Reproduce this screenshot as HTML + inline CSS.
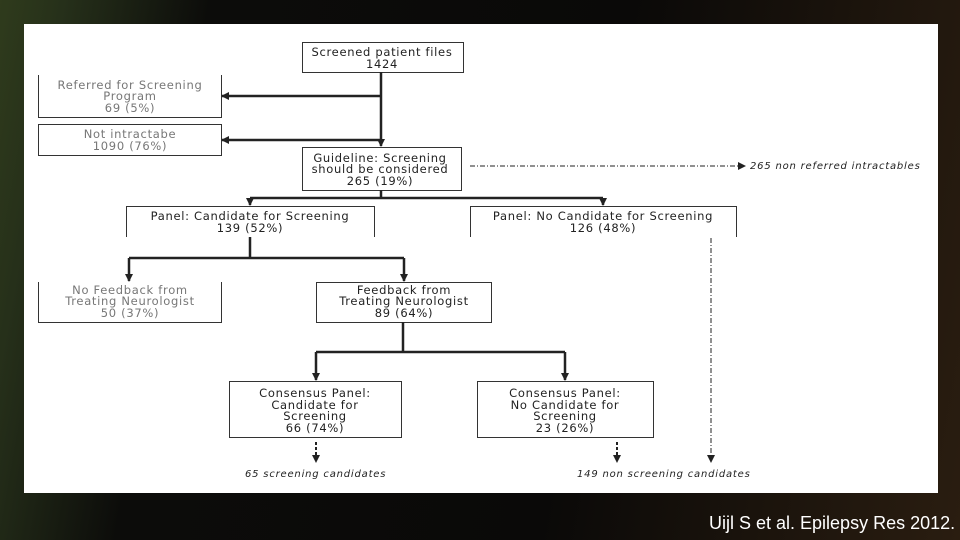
<!DOCTYPE html>
<html><head><style>
html,body{margin:0;padding:0;width:960px;height:540px;overflow:hidden}
body{background:linear-gradient(100deg,#2f3b1c 0%,#26301a 6%,#0c0c0a 20%,#0a0908 60%,#2a1d10 100%);position:relative}
.cite{position:absolute;left:709px;top:513px;color:#fff;font:18px "Liberation Sans",sans-serif;white-space:nowrap}
svg{position:absolute;left:0;top:0}
text{font-family:"DejaVu Sans","Liberation Sans",sans-serif;font-size:11.5px;letter-spacing:0.7px;fill:#222;text-anchor:middle}
.g{fill:#777}
.i{font-style:italic;text-anchor:start;font-size:10px;letter-spacing:0.8px}
</style></head><body>
<svg width="960" height="540">
<defs><marker id="a" markerWidth="8" markerHeight="8" refX="7" refY="4" orient="auto" markerUnits="userSpaceOnUse"><path d="M0,0L8,4L0,8z" fill="#222"/></marker></defs>
<rect x="24" y="24" width="914" height="469" fill="#fff"/>
<g fill="none" stroke="#333" stroke-width="1">
<rect x="302.5" y="42.5" width="161" height="30"/>
<path d="M38.5,75V117.5H221.5V75"/>
<rect x="38.5" y="124.5" width="183" height="31"/>
<rect x="302.5" y="147.5" width="159" height="43"/>
<path d="M126.5,237V206.5H374.5V237"/>
<path d="M470.5,237V206.5H736.5V237"/>
<path d="M38.5,282V322.5H221.5V282"/>
<rect x="316.5" y="282.5" width="175" height="40"/>
<rect x="229.5" y="381.5" width="172" height="56"/>
<rect x="477.5" y="381.5" width="176" height="56"/>
</g>
<g fill="none" stroke="#222" stroke-width="2.5">
<path d="M381,72V146" marker-end="url(#a)"/>
<path d="M381,96H222" marker-end="url(#a)"/>
<path d="M381,140H222" marker-end="url(#a)"/>
<path d="M381,190V198M250,198H603"/>
<path d="M250,198V205" marker-end="url(#a)"/>
<path d="M603,198V205" marker-end="url(#a)"/>
<path d="M250,237V258M129,258H404"/>
<path d="M129,258V281" marker-end="url(#a)"/>
<path d="M404,258V281" marker-end="url(#a)"/>
<path d="M403,322V352M316,352H565"/>
<path d="M316,352V380" marker-end="url(#a)"/>
<path d="M565,352V380" marker-end="url(#a)"/>
</g>
<g fill="none" stroke="#222" stroke-width="1.5">
<path d="M316,442V462" stroke-dasharray="3,2" stroke-width="2" marker-end="url(#a)"/>
<path d="M617,442V462" stroke-dasharray="3,2" stroke-width="2" marker-end="url(#a)"/>
<path d="M711,238V462" stroke-dasharray="5,2,1,2" stroke-width="1" marker-end="url(#a)"/>
<path d="M470,166H745" stroke-dasharray="5,2,1,2" stroke-width="1" marker-end="url(#a)"/>
</g>
<text x="382" y="56">Screened patient files</text><text x="382" y="68">1424</text>
<text class="g" x="130" y="89">Referred for Screening</text><text class="g" x="130" y="100">Program</text><text class="g" x="130" y="112">69 (5%)</text>
<text class="g" x="130" y="138">Not intractabe</text><text class="g" x="130" y="150">1090 (76%)</text>
<text x="380" y="162">Guideline: Screening</text><text x="380" y="173">should be considered</text><text x="380" y="185">265 (19%)</text>
<text x="250" y="220">Panel: Candidate for Screening</text><text x="250" y="232">139 (52%)</text>
<text x="603" y="220">Panel: No Candidate for Screening</text><text x="603" y="232">126 (48%)</text>
<text class="g" x="130" y="294">No Feedback from</text><text class="g" x="130" y="305">Treating Neurologist</text><text class="g" x="130" y="317">50 (37%)</text>
<text x="404" y="294">Feedback from</text><text x="404" y="305">Treating Neurologist</text><text x="404" y="317">89 (64%)</text>
<text x="315" y="397">Consensus Panel:</text><text x="315" y="409">Candidate for</text><text x="315" y="420">Screening</text><text x="315" y="432">66 (74%)</text>
<text x="565" y="397">Consensus Panel:</text><text x="565" y="409">No Candidate for</text><text x="565" y="420">Screening</text><text x="565" y="432">23 (26%)</text>
<text class="i" x="245" y="477">65 screening candidates</text>
<text class="i" x="577" y="477">149 non screening candidates</text>
<text class="i" x="750" y="169">265 non referred intractables</text>
</svg>
<div class="cite">Uijl S et al. Epilepsy Res 2012.</div>
</body></html>
